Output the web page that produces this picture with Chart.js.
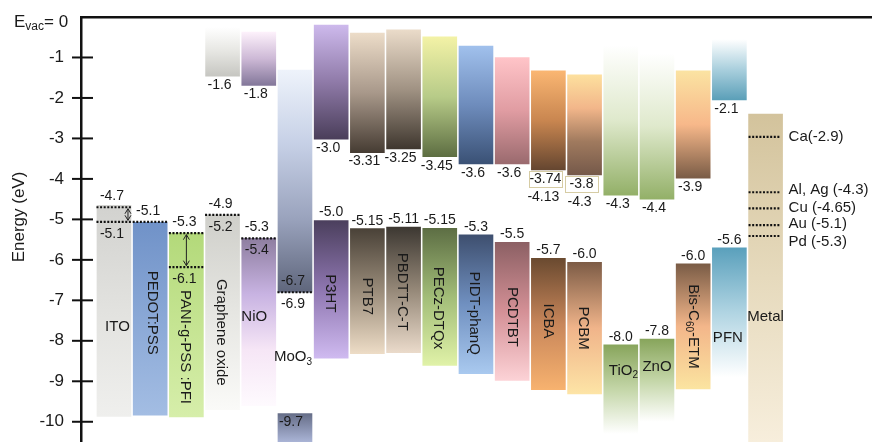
<!DOCTYPE html>
<html><head><meta charset="utf-8">
<script src="https://cdn.jsdelivr.net/npm/chart.js@4.4.1/dist/chart.umd.min.js"></script>
<style>html,body{margin:0;padding:0;background:#fff}#wrap{width:872px;height:442px;position:relative}</style>
</head><body><div id="wrap"><canvas id="c" width="872" height="442"></canvas></div>
<script>
// ---------------- data ----------------
const materials = ['ITO','PEDOT:PSS','PANI-g-PSS :PFI','Graphene oxide','NiO','MoO3','P3HT','PTB7','PBDTT-C-T','PECz-DTQx','PIDT-phanQ','PCDTBT','ICBA','PCBM','TiO2','ZnO','Bis-C60-ETM','PFN','Metal'];
const upperTop    = [null,null,null,-0.25,-0.37,-1.31,-0.2,-0.4,-0.32,-0.49,-0.72,-1.0,-1.33,-1.43,-0.7,-0.9,-1.33,-0.55,-2.4];
const upperBottom = [null,null,null,-1.46,-1.69,-6.8,-3.02,-3.35,-3.26,-3.45,-3.63,-3.63,-3.78,-3.9,-4.4,-4.5,-3.98,-2.05,-10.5];
const lowerTop    = [-4.65,-5.07,-5.34,-4.89,-5.47,-9.8,-5.03,-5.23,-5.19,-5.22,-5.38,-5.57,-5.96,-6.06,-8.1,-7.96,-6.1,-5.7,null];
const lowerBottom = [-9.87,-9.84,-9.88,-9.7,-9.6,-10.5,-8.43,-8.32,-8.29,-8.61,-8.81,-8.98,-9.21,-9.31,-10.3,-10.0,-9.19,-8.9,null];
const lumoText  = [null,null,null,'-1.6','-1.8',null,'-3.0','-3.31','-3.25','-3.45','-3.6','-3.6','-3.74','-3.8','-4.3','-4.4','-3.9','-2.1',null];
const lumoText2 = [null,null,null,null,null,null,null,null,null,null,null,null,'-4.13','-4.3',null,null,null,null,null];
const homoText  = [null,null,null,null,null,'-9.7','-5.0','-5.15','-5.11','-5.15','-5.3','-5.5','-5.7','-6.0','-8.0','-7.8','-6.0','-5.6',null];
const refIndex = [0,0,1,2,2,3,4,5];
const refLevel = [-4.70,-5.06,-5.06,-5.34,-6.18,-4.89,-5.47,-6.80];
const refAbove = ['-4.7',null,'-5.1','-5.3',null,'-4.9','-5.3','-6.7'];
const refBelow = [null,'-5.1',null,null,'-6.1','-5.2','-5.4','-6.9'];
const arrowIndex = [0,2];
const arrowFrom = [-4.70,-5.34];
const arrowTo = [-5.06,-6.18];
const metalLevels = [-2.96,-4.33,-4.73,-5.14,-5.41];
const metalLabels = ['Ca(-2.9)','Al, Ag (-4.3)','Cu (-4.65)','Au (-5.1)','Pd (-5.3)'];
const yTickValues = [-1,-2,-3,-4,-5,-6,-7,-8,-9,-10];

// ---------------- styles ----------------
const FONT = '"Liberation Sans", Arial, Helvetica, sans-serif';
const W0 = 'rgba(255,255,255,1)';
const upperFill = {
  'Graphene oxide': ['#ffffff','#e6e6e2','#c6c6c1'],
  'NiO': ['#fdf1fb','#cdb9d6','#83779a'],
  'MoO3': ['#eef3fb','#c6d0e6','#9aa3bd','#5f667c'],
  'P3HT': ['#cdb9ec','#8f7aa8','#4a3e5a'],
  'PTB7': ['#ecdcc8','#a8988a','#463c33'],
  'PBDTT-C-T': ['#eadbc9','#a09283','#3f372f'],
  'PECz-DTQx': ['#f3f2a6','#b7cb88','#5d6e42'],
  'PIDT-phanQ': ['#a0c0ec','#6e8cbc','#3a5175'],
  'PCDTBT': ['#ffc4c8','#e09ca2','#9a6a6e'],
  'ICBA': ['#fab672','#c98650','#654630'],
  'PCBM': ['#fde09e','#f2b68a','#a07a5e','#75594a'],
  'TiO2': [W0,'#dfe9cc','#93b068'],
  'ZnO': [W0,'#dfe9cc','#93b068'],
  'Bis-C60-ETM': ['#fbe3a2','#f7b88a','#7a5c46'],
  'PFN': [W0,'#a9cfdd','#5b9fb8'],
  'Metal': ['#d3c39c','#e6dabd','#f7eedc']
};
const lowerFill = {
  'ITO': ['#d2d2cf','#e2e2df','#efefed'],
  'PEDOT:PSS': ['#7092c8','#8aa8d6','#a3bde3'],
  'PANI-g-PSS :PFI': ['#b3d97a','#c5e492','#d6eeaa'],
  'Graphene oxide': ['#cfcfca','#e6e6e2','#fafaf8'],
  'NiO': ['#8e7ea0','#c8b3e2','#f6e6f6','#fefafe'],
  'MoO3': ['#666e88','#aab4d6'],
  'P3HT': ['#4b3f5d','#8e76b0','#cfbaf0'],
  'PTB7': ['#4a4238','#9a8c7a','#eddcc6'],
  'PBDTT-C-T': ['#3d3832','#958878','#eadaca'],
  'PECz-DTQx': ['#5d6e44','#a2bd78','#e0f2a8'],
  'PIDT-phanQ': ['#3e4f6f','#7090c0','#a9c9ef'],
  'PCDTBT': ['#8c6064','#d49096','#fcd2d6'],
  'ICBA': ['#6a4a30','#c8865a','#f7b26f'],
  'PCBM': ['#7d5c46','#f0b48a','#fde4a6'],
  'TiO2': ['#88a55c','#c4d6a8',W0],
  'ZnO': ['#88a55c','#c4d6a8',W0],
  'Bis-C60-ETM': ['#7a5c46','#f3b68a','#fbe4a0'],
  'PFN': ['#5aa0bc','#b0d4e2',W0]
};
const verticalNames = new Set(['PEDOT:PSS','PANI-g-PSS :PFI','Graphene oxide','P3HT','PTB7','PBDTT-C-T','PECz-DTQx','PIDT-phanQ','PCDTBT','ICBA','PCBM','Bis-C60-ETM']);
const richNames = {'MoO3':[['MoO',0],['3',1]], 'TiO2':[['TiO',0],['2',1]], 'Bis-C60-ETM':[['Bis-C',0],['60',1],['-ETM',0]]};
const nameNudge = {'ITO':[3.5,16],'PEDOT:PSS':[2,-6],'PANI-g-PSS :PFI':[-1,22],'Graphene oxide':[-1.5,20],'NiO':[-4.5,-5],'MoO3':[-2,4],
  'P3HT':[-1,4],'PTB7':[0,5],'PBDTT-C-T':[-1,2],'PECz-DTQx':[-2,11],'PIDT-phanQ':[-2,9],'PCDTBT':[0,5.5],'ICBA':[0,-3],'PCBM':[-1,0],
  'TiO2':[2.6,-19],'ZnO':[0,-14],'Bis-C60-ETM':[0,0],'PFN':[-1.5,25.5],'Metal':[0,39]};
const metalLabelNudge = [0,-2,-1,-1.5,5.5];
const homoInside = new Set(['MoO3']);
const arrowNudge = [14, 0];
const TXT = '#1a1a1a';

function toPoints(tops, bots) {
  const out = [];
  tops.forEach((t, i) => { if (t !== null) out.push({x: i, y: [t, bots[i]]}); });
  return out;
}
function gradFill(fills) {
  return (c) => {
    const chart = c.chart;
    const raw = c.raw;
    if (!chart.chartArea || !raw) return '#cccccc';
    const stops = fills[materials[raw.x]];
    if (!stops) return '#cccccc';
    const ys = chart.scales.y;
    const y0 = ys.getPixelForValue(raw.y[0]), y1 = ys.getPixelForValue(raw.y[1]);
    const g = chart.ctx.createLinearGradient(0, y0, 0, y1);
    stops.forEach((col, k) => g.addColorStop(k / (stops.length - 1), col));
    return g;
  };
}
function drawRich(ctx, parts, cx, cy, size, rot) {
  ctx.save();
  ctx.translate(cx, cy);
  if (rot) ctx.rotate(rot);
  ctx.textBaseline = 'middle';
  ctx.textAlign = 'left';
  const sub = Math.round(size * 0.68);
  let w = 0;
  parts.forEach(([t, s]) => { ctx.font = (s ? sub : size) + 'px ' + FONT; w += ctx.measureText(t).width; });
  let x = -w / 2;
  parts.forEach(([t, s]) => {
    ctx.font = (s ? sub : size) + 'px ' + FONT;
    ctx.fillText(t, x, s ? size * 0.32 : 0);
    x += ctx.measureText(t).width;
  });
  ctx.restore();
}
function text(ctx, t, x, y, size, align) {
  ctx.font = size + 'px ' + FONT;
  ctx.textAlign = align || 'center';
  ctx.textBaseline = 'middle';
  ctx.fillText(t, x, y);
}

const annotate = {
  id: 'annotate',
  afterDraw(chart) {
    const ctx = chart.ctx, xs = chart.scales.x, ys = chart.scales.y;
    const half = 17;
    ctx.save();
    ctx.fillStyle = TXT;
    ctx.strokeStyle = '#111';
    ctx.lineWidth = 2;
    yTickValues.forEach(v => {
      const y = ys.getPixelForValue(v);
      ctx.beginPath(); ctx.moveTo(72, y); ctx.lineTo(93, y); ctx.stroke();
    });
    const y0 = ys.getPixelForValue(0);
    ctx.textAlign = 'left'; ctx.textBaseline = 'alphabetic';
    ctx.font = '17px ' + FONT; ctx.fillText('E', 14, y0 + 10);
    let x = 14 + ctx.measureText('E').width;
    ctx.font = '12px ' + FONT; ctx.fillText('vac', x, y0 + 13);
    x += ctx.measureText('vac').width;
    ctx.font = '17px ' + FONT; ctx.fillText('= 0', x, y0 + 10);
    ctx.save(); ctx.translate(19, 217); ctx.rotate(-Math.PI / 2);
    text(ctx, 'Energy (eV)', 0, 0, 17); ctx.restore();

    ctx.setLineDash([2, 1.6]); ctx.lineWidth = 2.2; ctx.strokeStyle = '#111';
    refIndex.forEach((i, k) => {
      const cx = xs.getPixelForValue(i), y = ys.getPixelForValue(refLevel[k]);
      ctx.beginPath(); ctx.moveTo(cx - half - 0.5, y); ctx.lineTo(cx + half + 0.5, y); ctx.stroke();
    });
    const mi = materials.indexOf('Metal');
    const mx = xs.getPixelForValue(mi);
    metalLevels.forEach(v => {
      const y = ys.getPixelForValue(v);
      ctx.beginPath(); ctx.moveTo(mx - half, y); ctx.lineTo(mx + half - 3, y); ctx.stroke();
    });
    ctx.setLineDash([]);
    ctx.lineWidth = 1; ctx.strokeStyle = '#222';
    arrowIndex.forEach((i, k) => {
      const ax = xs.getPixelForValue(i) + arrowNudge[k];
      const ya = ys.getPixelForValue(arrowFrom[k]) + 1.5, yb = ys.getPixelForValue(arrowTo[k]) - 1.5;
      ctx.beginPath(); ctx.moveTo(ax, ya); ctx.lineTo(ax, yb);
      ctx.moveTo(ax - 3, ya + 5); ctx.lineTo(ax, ya); ctx.lineTo(ax + 3, ya + 5);
      ctx.moveTo(ax - 3, yb - 5); ctx.lineTo(ax, yb); ctx.lineTo(ax + 3, yb - 5);
      ctx.stroke();
    });
    ctx.fillStyle = TXT;
    refIndex.forEach((i, k) => {
      const cx = xs.getPixelForValue(i) - 2, y = ys.getPixelForValue(refLevel[k]);
      if (refAbove[k]) text(ctx, refAbove[k], cx, y - 11, 14);
      if (refBelow[k]) text(ctx, refBelow[k], cx, y + 12, 14);
    });
    materials.forEach((m, i) => {
      const cx = xs.getPixelForValue(i);
      if (lumoText[i]) {
        const yb = ys.getPixelForValue(upperBottom[i]);
        const lx = cx - 3;
        text(ctx, lumoText[i], lx, yb + 9, 14);
        if (lumoText2[i]) {
          ctx.strokeStyle = '#d6cca4'; ctx.lineWidth = 1;
          ctx.strokeRect(Math.round(lx - 16.5) + 0.5, Math.round(yb + 1) + 0.5, 33, 16);
          text(ctx, lumoText2[i], cx - 5, yb + 27, 14);
        }
      }
      if (homoText[i]) {
        const yt = ys.getPixelForValue(lowerTop[i]);
        if (homoInside.has(m)) text(ctx, homoText[i], cx - 4, yt + 8, 14);
        else text(ctx, homoText[i], cx, yt - 8, 14);
      }
      let yMid;
      if (m === 'MoO3') yMid = (ys.getPixelForValue(upperBottom[i]) + ys.getPixelForValue(lowerTop[i])) / 2;
      else if (lowerTop[i] !== null) yMid = (ys.getPixelForValue(lowerTop[i]) + ys.getPixelForValue(lowerBottom[i])) / 2;
      else yMid = (ys.getPixelForValue(upperTop[i]) + ys.getPixelForValue(upperBottom[i])) / 2;
      const nd = nameNudge[m] || [0, 0];
      const parts = richNames[m] || [[m, 0]];
      ctx.fillStyle = TXT;
      drawRich(ctx, parts, cx + nd[0], yMid + nd[1], 15, verticalNames.has(m) ? Math.PI / 2 : 0);
    });
    metalLabels.forEach((t, k) => {
      text(ctx, t, mx + 23, ys.getPixelForValue(metalLevels[k]) + metalLabelNudge[k], 15, 'left');
    });
    ctx.restore();
  }
};

new Chart(document.getElementById('c'), {
  type: 'bar',
  data: {
    datasets: [
      {label: 'upper', data: toPoints(upperTop, upperBottom), backgroundColor: gradFill(upperFill), borderWidth: 0, barThickness: 34, grouped: false},
      {label: 'lower', data: toPoints(lowerTop, lowerBottom), backgroundColor: gradFill(lowerFill), borderWidth: 0, barThickness: 34, grouped: false}
    ]
  },
  options: {
    responsive: false,
    devicePixelRatio: 1,
    animation: false,
    layout: {padding: {top: 17, left: 0, right: 0, bottom: 0}},
    plugins: {legend: {display: false}, tooltip: {enabled: false}},
    scales: {
      x: {type: 'linear', position: 'top', min: -0.911, max: 20.94, offset: false,
          ticks: {display: false}, grid: {display: false, drawTicks: false, offset: false},
          border: {display: true, color: '#111', width: 2.5},
          afterFit(s) { s.height = 0; s.paddingLeft = 0; s.paddingRight = 0; }},
      y: {type: 'linear', min: -10.5, max: 0,
          ticks: {stepSize: 1, color: TXT, font: {family: FONT, size: 17}, padding: 17,
                  callback: (v) => (Number.isInteger(v) && v < 0) ? String(v) : ''},
          grid: {display: false, drawTicks: false},
          border: {display: true, color: '#111', width: 2.5},
          afterFit(s) { s.width = 81; s.paddingTop = 0; s.paddingBottom = 0; }}
    }
  },
  plugins: [annotate]
});
</script>
</body></html>
